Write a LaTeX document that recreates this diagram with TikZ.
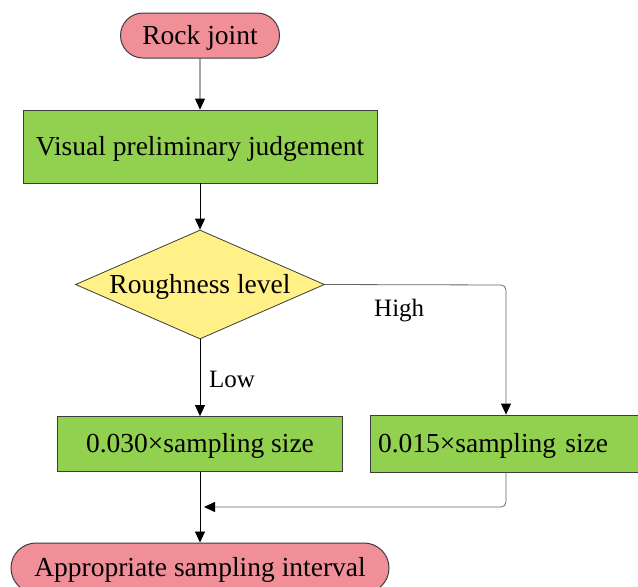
\documentclass[tikz,border=0pt]{standalone}
\usepackage{fontspec}
\setmainfont{Liberation Serif}
\usetikzlibrary{shapes.geometric,shapes.misc,arrows.meta}
\definecolor{pinkf}{RGB}{240,143,152}
\definecolor{greenf}{RGB}{146,208,80}
\definecolor{yellowf}{RGB}{255,240,136}
\definecolor{edgec}{RGB}{60,60,60}
\tikzset{
  x=1pt, y=-1pt,
  every node/.style={font=\fontsize{27.5}{30}\selectfont, inner sep=0pt, text depth=2pt},
  term/.style={rounded rectangle, draw=edgec, line width=1pt, fill=pinkf},
  procbox/.style={rectangle, draw=edgec, line width=0.8pt, fill=greenf},
  decis/.style={diamond, draw=edgec, line width=0.8pt, fill=yellowf, aspect=2.28},
  arr/.style={-{Triangle[length=11pt,width=10pt]}, line width=0.8pt, black},
  garr/.style={-{Triangle[length=11pt,width=10pt,color=black,fill=black]}, line width=0.8pt, draw=gray!80!black, rounded corners=5pt},
  lbl/.style={font=\fontsize{25}{28}\selectfont, anchor=west}
}
\begin{document}
\begin{tikzpicture}
\useasboundingbox (0,0) rectangle (638,587);
\begin{scope}
\clip (0,0) rectangle (638,587);
\node[term, minimum width=159pt, minimum height=45pt] (rock) at (200,35.5) {Rock joint};
\node[procbox, minimum width=354pt, minimum height=73pt] (vis) at (200,146.5) {Visual preliminary judgement};
\node[decis, minimum width=249pt, minimum height=109pt] (rough) at (200,284.5) {};
\node at (200,285) {Roughness level};
\node[procbox, minimum width=285pt, minimum height=55pt] (low) at (200,444) {0.030×sampling size};
\node[procbox, minimum width=280pt, minimum height=57pt, text width=268pt, align=left] (high) at (510,443.5) {\hspace*{2pt}0.015×sampling size};
\node[term, minimum width=378pt, minimum height=50pt] (out) at (200,568) {Appropriate sampling interval};
\coordinate (hc) at (506,285);
\coordinate (hb) at (506,507);
\coordinate (join) at (200,507);
\draw[arr] (rock) -- (vis);
\draw[arr] (vis) -- (rough.north);
\draw[arr] (rough.south) -- (low.north);
\draw[arr] (low.south) -- (out.north);
\draw[garr] (rough.east) -- (hc) -- (hc |- high.north);
\draw[garr] (hc |- high.south) -- (hb) -- ([xshift=4pt]join);
\node[lbl] (lowl) at (209,380) {Low};
\node[lbl] (highl) at (374,309) {High};
\end{scope}
\end{tikzpicture}
\end{document}
